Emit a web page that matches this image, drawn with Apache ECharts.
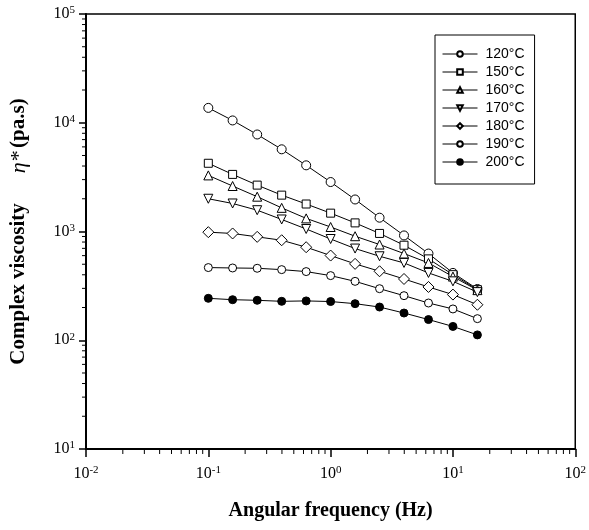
<!DOCTYPE html>
<html>
<head>
<meta charset="utf-8">
<script src="https://cdn.jsdelivr.net/npm/echarts@6/dist/echarts.min.js"></script>
<style>
  html, body { margin: 0; padding: 0; background: #fff; }
  #chart { width: 589px; height: 530px; }
</style>
</head>
<body>
<div id="chart"></div>
<script>
// angular frequency (Hz), 5 points per decade
const freq = [0.1, 0.158, 0.251, 0.398, 0.631, 1, 1.585, 2.512, 3.981, 6.31, 10, 15.85];

// complex viscosity eta* (pa.s) per temperature
const eta120 = [13700, 10500, 7800, 5700, 4060, 2850, 1970, 1340, 920, 627, 416, 296];
const eta150 = [4240, 3350, 2670, 2160, 1790, 1475, 1200, 960, 748, 560, 401, 292];
const eta160 = [3280, 2620, 2090, 1650, 1320, 1100, 905, 759, 627, 514, 385, 289];
const eta170 = [2000, 1810, 1570, 1290, 1055, 853, 697, 592, 514, 416, 348, 277];
const eta180 = [986, 959, 893, 831, 717, 601, 504, 431, 366, 309, 263, 212];
const eta190 = [466, 462, 459, 446, 428, 393, 348, 298, 257, 220, 194, 158];
const eta200 = [243, 236, 233, 228, 230, 227, 217, 202, 178, 155, 134, 112];

const names = ['120°C', '150°C', '160°C', '170°C', '180°C', '190°C', '200°C'];

// axis decades (tick labels are 10^k)
const xTicks = [0.01, 0.1, 1, 10, 100];
const yTicks = [10, 100, 1000, 10000, 100000];
const minorMult = [2, 3, 4, 5, 6, 7, 8, 9];

const serif = "'Liberation Serif', 'DejaVu Serif', serif";
const sans = "'Liberation Sans', Arial, sans-serif";

function minorsOf(ticks) {
  const out = [];
  for (let i = 0; i < ticks.length - 1; i++) {
    minorMult.forEach(m => out.push(ticks[i] * m));
  }
  return out;
}

function powLabel(value) {
  const e = Math.round(Math.log10(value));
  return '{b|10}{s|' + e + '}';
}

const labelRich = {
  b: { fontFamily: serif, fontSize: 16, color: '#000', lineHeight: 18 },
  s: { fontFamily: serif, fontSize: 11, color: '#000', verticalAlign: 'top', lineHeight: 11 }
};

function lineSeries(name, values, symbol, size, extra) {
  return Object.assign({
    name: name,
    type: 'line',
    data: freq.map((f, i) => [f, values[i]]),
    symbol: symbol,
    symbolSize: size,
    showAllSymbol: true,
    lineStyle: { color: '#000', width: 1 },
    itemStyle: { color: '#fff', borderColor: '#000', borderWidth: 1 },
    emphasis: { disabled: true },
    z: 3
  }, extra || {});
}

const chart = echarts.init(document.getElementById('chart'), null, { renderer: 'canvas' });

chart.setOption({
  animation: false,
  backgroundColor: '#fff',
  grid: {
    left: 81, right: 12, top: 14, bottom: 81,
    show: true, borderColor: '#000', borderWidth: 1.5, backgroundColor: 'transparent'
  },
  legend: {
    data: names,
    orient: 'vertical',
    left: 435,
    top: 35,
    padding: [12, 10, 15, 7],
    itemWidth: 35,
    itemHeight: 7,
    itemGap: 4,
    borderColor: '#000',
    borderWidth: 1,
    backgroundColor: '#fff',
    lineStyle: { width: 1 },
    textStyle: { fontFamily: sans, fontSize: 14, color: '#000', padding: [0, 0, 0, 3] }
  },
  xAxis: {
    type: 'log',
    logBase: 10,
    min: xTicks[0],
    max: xTicks[xTicks.length - 1],
    name: 'Angular frequency (Hz)',
    nameLocation: 'middle',
    nameGap: 52,
    nameTextStyle: { fontFamily: serif, fontWeight: 'bold', fontSize: 20, color: '#000' },
    axisLine: { lineStyle: { color: '#000', width: 2 } },
    axisTick: { length: 8, lineStyle: { color: '#000', width: 1.5 } },
    axisLabel: { formatter: powLabel, margin: 16, rich: labelRich },
    splitLine: { show: false }
  },
  yAxis: {
    type: 'log',
    logBase: 10,
    min: yTicks[0],
    max: yTicks[yTicks.length - 1],
    name: '{b|Complex viscosity}         {i|η*} {b|(pa.s)}',
    nameLocation: 'middle',
    nameRotate: 90,
    nameGap: 56,
    nameTextStyle: {
      rich: {
        b: { fontFamily: serif, fontWeight: 'bold', fontSize: 21, color: '#000' },
        i: { fontFamily: serif, fontStyle: 'italic', fontSize: 22, color: '#000' }
      }
    },
    axisLine: { lineStyle: { color: '#000', width: 2 } },
    axisTick: { length: 7, lineStyle: { color: '#000', width: 1.5 } },
    axisLabel: { formatter: powLabel, margin: 11, rich: labelRich },
    splitLine: { show: false }
  },
  series: [
    lineSeries(names[0], eta120, 'circle', 9),
    lineSeries(names[1], eta150, 'rect', 8),
    lineSeries(names[2], eta160, 'triangle', 9),
    lineSeries(names[3], eta170, 'triangle', 9, { symbolRotate: 180 }),
    lineSeries(names[4], eta180, 'diamond', 11),
    lineSeries(names[5], eta190, 'circle', 8),
    lineSeries(names[6], eta200, 'circle', 8, { itemStyle: { color: '#000', borderColor: '#000', borderWidth: 1 } }),
    {
      // minor ticks of the log x axis
      type: 'custom',
      silent: true,
      clip: false,
      data: minorsOf(xTicks).map(v => [v, yTicks[0]]),
      renderItem: function (params, api) {
        const p = api.coord([api.value(0), api.value(1)]);
        return { type: 'line', shape: { x1: p[0], y1: p[1], x2: p[0], y2: p[1] + 5 }, style: { stroke: '#000', lineWidth: 1 } };
      }
    },
    {
      // minor ticks of the log y axis
      type: 'custom',
      silent: true,
      clip: false,
      data: minorsOf(yTicks).map(v => [xTicks[0], v]),
      renderItem: function (params, api) {
        const p = api.coord([api.value(0), api.value(1)]);
        return { type: 'line', shape: { x1: p[0], y1: p[1], x2: p[0] - 4, y2: p[1] }, style: { stroke: '#000', lineWidth: 1 } };
      }
    }
  ]
});
</script>
</body>
</html>
